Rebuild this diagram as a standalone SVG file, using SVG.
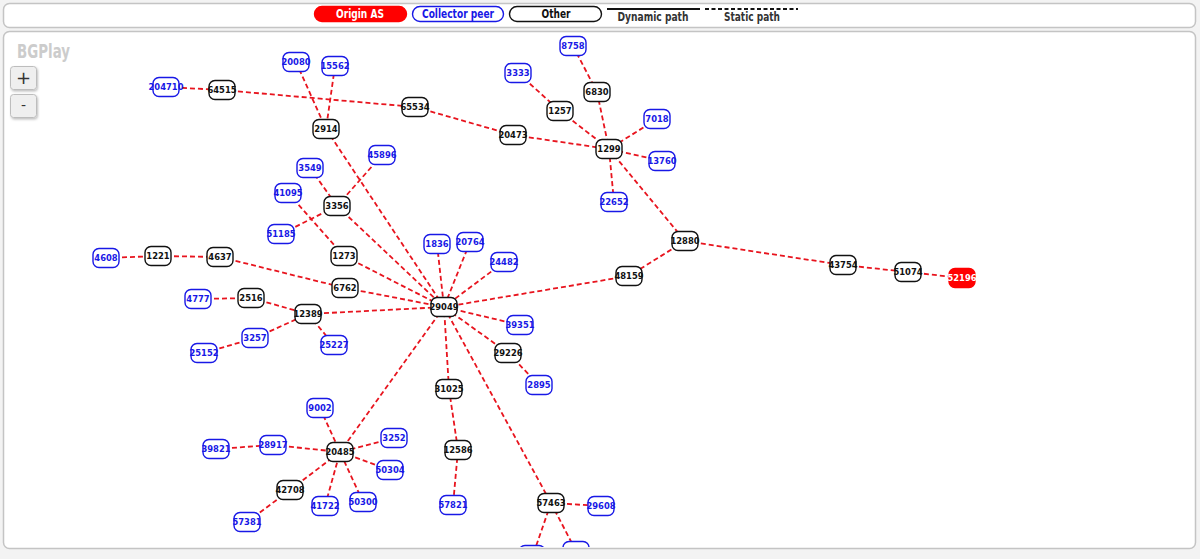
<svg xmlns="http://www.w3.org/2000/svg" width="1200" height="559" viewBox="0 0 1200 559">
<style>
.panel{fill:#fff;stroke:#c4c4c4;stroke-width:1.5}
.edge line{stroke:#e8141e;stroke-width:1.8;stroke-dasharray:5 3;fill:none}
.node rect{x:-13px;y:-9.5px;width:26px;height:19px;rx:6px;ry:6px;fill:#fff;stroke-width:1.4}
.node text{font-family:"DejaVu Sans","Liberation Sans",sans-serif;font-weight:bold;font-size:8.4px;text-anchor:middle}
.other rect{stroke:#111}
.other text{fill:#111}
.peer rect{stroke:#1818e6}
.peer text{fill:#1818e6}
.origin rect{stroke:#f00;fill:#f00}
.origin text{fill:#fff}
.leg{font-family:"DejaVu Sans","Liberation Sans",sans-serif;font-weight:bold;font-size:12px;text-anchor:middle}
.btn{fill:#efefef;stroke:#bdbdbd;stroke-width:1}
</style>
<defs>
<clipPath id="clip"><rect x="4" y="32" width="1191" height="515"/></clipPath>
<filter id="sh" x="-20%" y="-20%" width="150%" height="150%"><feDropShadow dx="1" dy="1.5" stdDeviation="0.8" flood-color="#000" flood-opacity="0.25"/></filter>
</defs>
<rect x="0" y="0" width="1200" height="559" fill="#f3f3f3"/>
<rect class="panel" x="3.5" y="3.5" width="1192" height="24" rx="6"/>
<rect class="panel" x="3.5" y="31.5" width="1192" height="517" rx="6"/>
<g id="legend">
<rect x="314.5" y="6.5" width="92" height="15" rx="7.5" fill="#f00" stroke="#f00" stroke-width="1.4"/>
<text class="leg" x="360" y="18" fill="#fff" textLength="48" lengthAdjust="spacingAndGlyphs">Origin AS</text>
<rect x="412.5" y="6.5" width="91" height="15" rx="7.5" fill="#fff" stroke="#1818e6" stroke-width="1.4"/>
<text class="leg" x="458" y="18" fill="#1818e6" textLength="72" lengthAdjust="spacingAndGlyphs">Collector peer</text>
<rect x="509.5" y="6.5" width="92" height="15" rx="7.5" fill="#fff" stroke="#111" stroke-width="1.4"/>
<text class="leg" x="556" y="18" fill="#111" textLength="29" lengthAdjust="spacingAndGlyphs">Other</text>
<line x1="607" y1="9" x2="700" y2="9" stroke="#111" stroke-width="2"/>
<text class="leg" x="653" y="21" fill="#333" textLength="71" lengthAdjust="spacingAndGlyphs">Dynamic path</text>
<line x1="705" y1="9" x2="798" y2="9" stroke="#111" stroke-width="2" stroke-dasharray="4 2.5"/>
<text class="leg" x="752" y="21" fill="#333" textLength="56" lengthAdjust="spacingAndGlyphs">Static path</text>
</g>
<g id="controls">
<text x="17" y="58" font-family="DejaVu Sans,Liberation Sans,sans-serif" font-weight="bold" font-size="19" fill="#cccccc" textLength="53" lengthAdjust="spacingAndGlyphs">BGPlay</text>
<rect class="btn" x="10.5" y="66.5" width="26" height="23" rx="3" filter="url(#sh)"/>
<text x="23.5" y="84" font-family="DejaVu Sans,sans-serif" font-size="18" text-anchor="middle" fill="#333">+</text>
<rect class="btn" x="10.5" y="94.5" width="26" height="23" rx="3" filter="url(#sh)"/>
<text x="23.5" y="110" font-family="DejaVu Sans,sans-serif" font-size="14" text-anchor="middle" fill="#333">-</text>
</g>
<g clip-path="url(#clip)">
<g id="edges" class="edge">
<line x1="166" y1="87" x2="222" y2="90"/>
<line x1="222" y1="90" x2="415" y2="107"/>
<line x1="415" y1="107" x2="513" y2="135"/>
<line x1="513" y1="135" x2="609" y2="149"/>
<line x1="296" y1="62" x2="326" y2="129"/>
<line x1="335" y1="66" x2="326" y2="129"/>
<line x1="326" y1="129" x2="444" y2="307"/>
<line x1="518" y1="73" x2="560" y2="111"/>
<line x1="560" y1="111" x2="609" y2="149"/>
<line x1="573" y1="46" x2="597" y2="92"/>
<line x1="597" y1="92" x2="609" y2="149"/>
<line x1="657" y1="119" x2="609" y2="149"/>
<line x1="662" y1="161" x2="609" y2="149"/>
<line x1="614" y1="202" x2="609" y2="149"/>
<line x1="609" y1="149" x2="685" y2="241"/>
<line x1="685" y1="241" x2="629" y2="276"/>
<line x1="629" y1="276" x2="444" y2="307"/>
<line x1="685" y1="241" x2="843" y2="265"/>
<line x1="843" y1="265" x2="908" y2="272"/>
<line x1="908" y1="272" x2="962" y2="278"/>
<line x1="310" y1="168" x2="337" y2="206"/>
<line x1="382" y1="155" x2="337" y2="206"/>
<line x1="281" y1="234" x2="337" y2="206"/>
<line x1="337" y1="206" x2="444" y2="307"/>
<line x1="288" y1="193" x2="344" y2="256"/>
<line x1="344" y1="256" x2="444" y2="307"/>
<line x1="106" y1="258" x2="158" y2="256"/>
<line x1="158" y1="256" x2="220" y2="257"/>
<line x1="220" y1="257" x2="345" y2="288"/>
<line x1="345" y1="288" x2="444" y2="307"/>
<line x1="198" y1="299" x2="251" y2="298"/>
<line x1="251" y1="298" x2="308" y2="314"/>
<line x1="308" y1="314" x2="444" y2="307"/>
<line x1="204" y1="353" x2="255" y2="338"/>
<line x1="255" y1="338" x2="308" y2="314"/>
<line x1="308" y1="314" x2="334" y2="345"/>
<line x1="437" y1="244" x2="444" y2="307"/>
<line x1="470" y1="242" x2="444" y2="307"/>
<line x1="504" y1="262" x2="444" y2="307"/>
<line x1="520" y1="325" x2="444" y2="307"/>
<line x1="508" y1="353" x2="444" y2="307"/>
<line x1="508" y1="353" x2="539" y2="385"/>
<line x1="449" y1="389" x2="444" y2="307"/>
<line x1="449" y1="389" x2="458" y2="450"/>
<line x1="458" y1="450" x2="453" y2="505"/>
<line x1="444" y1="307" x2="340" y2="452"/>
<line x1="444" y1="307" x2="551" y2="503"/>
<line x1="320" y1="408" x2="340" y2="452"/>
<line x1="273" y1="445" x2="340" y2="452"/>
<line x1="216" y1="449" x2="273" y2="445"/>
<line x1="394" y1="438" x2="340" y2="452"/>
<line x1="390" y1="470" x2="340" y2="452"/>
<line x1="363" y1="502" x2="340" y2="452"/>
<line x1="325" y1="506" x2="340" y2="452"/>
<line x1="290" y1="490" x2="340" y2="452"/>
<line x1="247" y1="522" x2="290" y2="490"/>
<line x1="551" y1="503" x2="601" y2="506"/>
<line x1="551" y1="503" x2="533" y2="555"/>
<line x1="551" y1="503" x2="576" y2="551"/>
</g>
<g id="n204710" class="node peer" transform="translate(166,87)"><rect/><text y="3">204710</text></g>
<g id="n64515" class="node other" transform="translate(222,90)"><rect/><text y="3">64515</text></g>
<g id="n20080" class="node peer" transform="translate(296,62)"><rect/><text y="3">20080</text></g>
<g id="n15562" class="node peer" transform="translate(335,66)"><rect/><text y="3">15562</text></g>
<g id="n2914" class="node other" transform="translate(326,129)"><rect/><text y="3">2914</text></g>
<g id="n65534" class="node other" transform="translate(415,107)"><rect/><text y="3">65534</text></g>
<g id="n8758" class="node peer" transform="translate(573,46)"><rect/><text y="3">8758</text></g>
<g id="n3333" class="node peer" transform="translate(518,73)"><rect/><text y="3">3333</text></g>
<g id="n6830" class="node other" transform="translate(597,92)"><rect/><text y="3">6830</text></g>
<g id="n1257" class="node other" transform="translate(560,111)"><rect/><text y="3">1257</text></g>
<g id="n7018" class="node peer" transform="translate(657,119)"><rect/><text y="3">7018</text></g>
<g id="n20473" class="node other" transform="translate(513,135)"><rect/><text y="3">20473</text></g>
<g id="n1299" class="node other" transform="translate(609,149)"><rect/><text y="3">1299</text></g>
<g id="n13760" class="node peer" transform="translate(662,161)"><rect/><text y="3">13760</text></g>
<g id="n22652" class="node peer" transform="translate(614,202)"><rect/><text y="3">22652</text></g>
<g id="n45896" class="node peer" transform="translate(382,155)"><rect/><text y="3">45896</text></g>
<g id="n3549" class="node peer" transform="translate(310,168)"><rect/><text y="3">3549</text></g>
<g id="n41095" class="node peer" transform="translate(288,193)"><rect/><text y="3">41095</text></g>
<g id="n3356" class="node other" transform="translate(337,206)"><rect/><text y="3">3356</text></g>
<g id="n51185" class="node peer" transform="translate(281,234)"><rect/><text y="3">51185</text></g>
<g id="n1836" class="node peer" transform="translate(437,244)"><rect/><text y="3">1836</text></g>
<g id="n20764" class="node peer" transform="translate(470,242)"><rect/><text y="3">20764</text></g>
<g id="n24482" class="node peer" transform="translate(504,262)"><rect/><text y="3">24482</text></g>
<g id="n1273" class="node other" transform="translate(344,256)"><rect/><text y="3">1273</text></g>
<g id="n6762" class="node other" transform="translate(345,288)"><rect/><text y="3">6762</text></g>
<g id="n29049" class="node other" transform="translate(444,307)"><rect/><text y="3">29049</text></g>
<g id="n12389" class="node other" transform="translate(308,314)"><rect/><text y="3">12389</text></g>
<g id="n39351" class="node peer" transform="translate(520,325)"><rect/><text y="3">39351</text></g>
<g id="n4608" class="node peer" transform="translate(106,258)"><rect/><text y="3">4608</text></g>
<g id="n1221" class="node other" transform="translate(158,256)"><rect/><text y="3">1221</text></g>
<g id="n4637" class="node other" transform="translate(220,257)"><rect/><text y="3">4637</text></g>
<g id="n4777" class="node peer" transform="translate(198,299)"><rect/><text y="3">4777</text></g>
<g id="n2516" class="node other" transform="translate(251,298)"><rect/><text y="3">2516</text></g>
<g id="n3257" class="node peer" transform="translate(255,338)"><rect/><text y="3">3257</text></g>
<g id="n25152" class="node peer" transform="translate(204,353)"><rect/><text y="3">25152</text></g>
<g id="n25227" class="node peer" transform="translate(334,345)"><rect/><text y="3">25227</text></g>
<g id="n48159" class="node other" transform="translate(629,276)"><rect/><text y="3">48159</text></g>
<g id="n12880" class="node other" transform="translate(685,241)"><rect/><text y="3">12880</text></g>
<g id="n29226" class="node other" transform="translate(508,353)"><rect/><text y="3">29226</text></g>
<g id="n2895" class="node peer" transform="translate(539,385)"><rect/><text y="3">2895</text></g>
<g id="n31025" class="node other" transform="translate(449,389)"><rect/><text y="3">31025</text></g>
<g id="n43754" class="node other" transform="translate(843,265)"><rect/><text y="3">43754</text></g>
<g id="n51074" class="node other" transform="translate(908,272)"><rect/><text y="3">51074</text></g>
<g id="n52196" class="node origin" transform="translate(962,278)"><rect/><text y="3">52196</text></g>
<g id="n9002" class="node peer" transform="translate(320,408)"><rect/><text y="3">9002</text></g>
<g id="n39821" class="node peer" transform="translate(216,449)"><rect/><text y="3">39821</text></g>
<g id="n28917" class="node peer" transform="translate(273,445)"><rect/><text y="3">28917</text></g>
<g id="n20485" class="node other" transform="translate(340,452)"><rect/><text y="3">20485</text></g>
<g id="n3252" class="node peer" transform="translate(394,438)"><rect/><text y="3">3252</text></g>
<g id="n50304" class="node peer" transform="translate(390,470)"><rect/><text y="3">50304</text></g>
<g id="n42708" class="node other" transform="translate(290,490)"><rect/><text y="3">42708</text></g>
<g id="n41722" class="node peer" transform="translate(325,506)"><rect/><text y="3">41722</text></g>
<g id="n50300" class="node peer" transform="translate(363,502)"><rect/><text y="3">50300</text></g>
<g id="n57381" class="node peer" transform="translate(247,522)"><rect/><text y="3">57381</text></g>
<g id="n12586" class="node other" transform="translate(458,450)"><rect/><text y="3">12586</text></g>
<g id="n57821" class="node peer" transform="translate(453,505)"><rect/><text y="3">57821</text></g>
<g id="n57463" class="node other" transform="translate(551,503)"><rect/><text y="3">57463</text></g>
<g id="n29608" class="node peer" transform="translate(601,506)"><rect/><text y="3">29608</text></g>
<g id="nclip1" class="node peer" transform="translate(532,555)"><rect/></g>
<g id="nclip2" class="node peer" transform="translate(576,551)"><rect/></g>
</g>
</svg>
